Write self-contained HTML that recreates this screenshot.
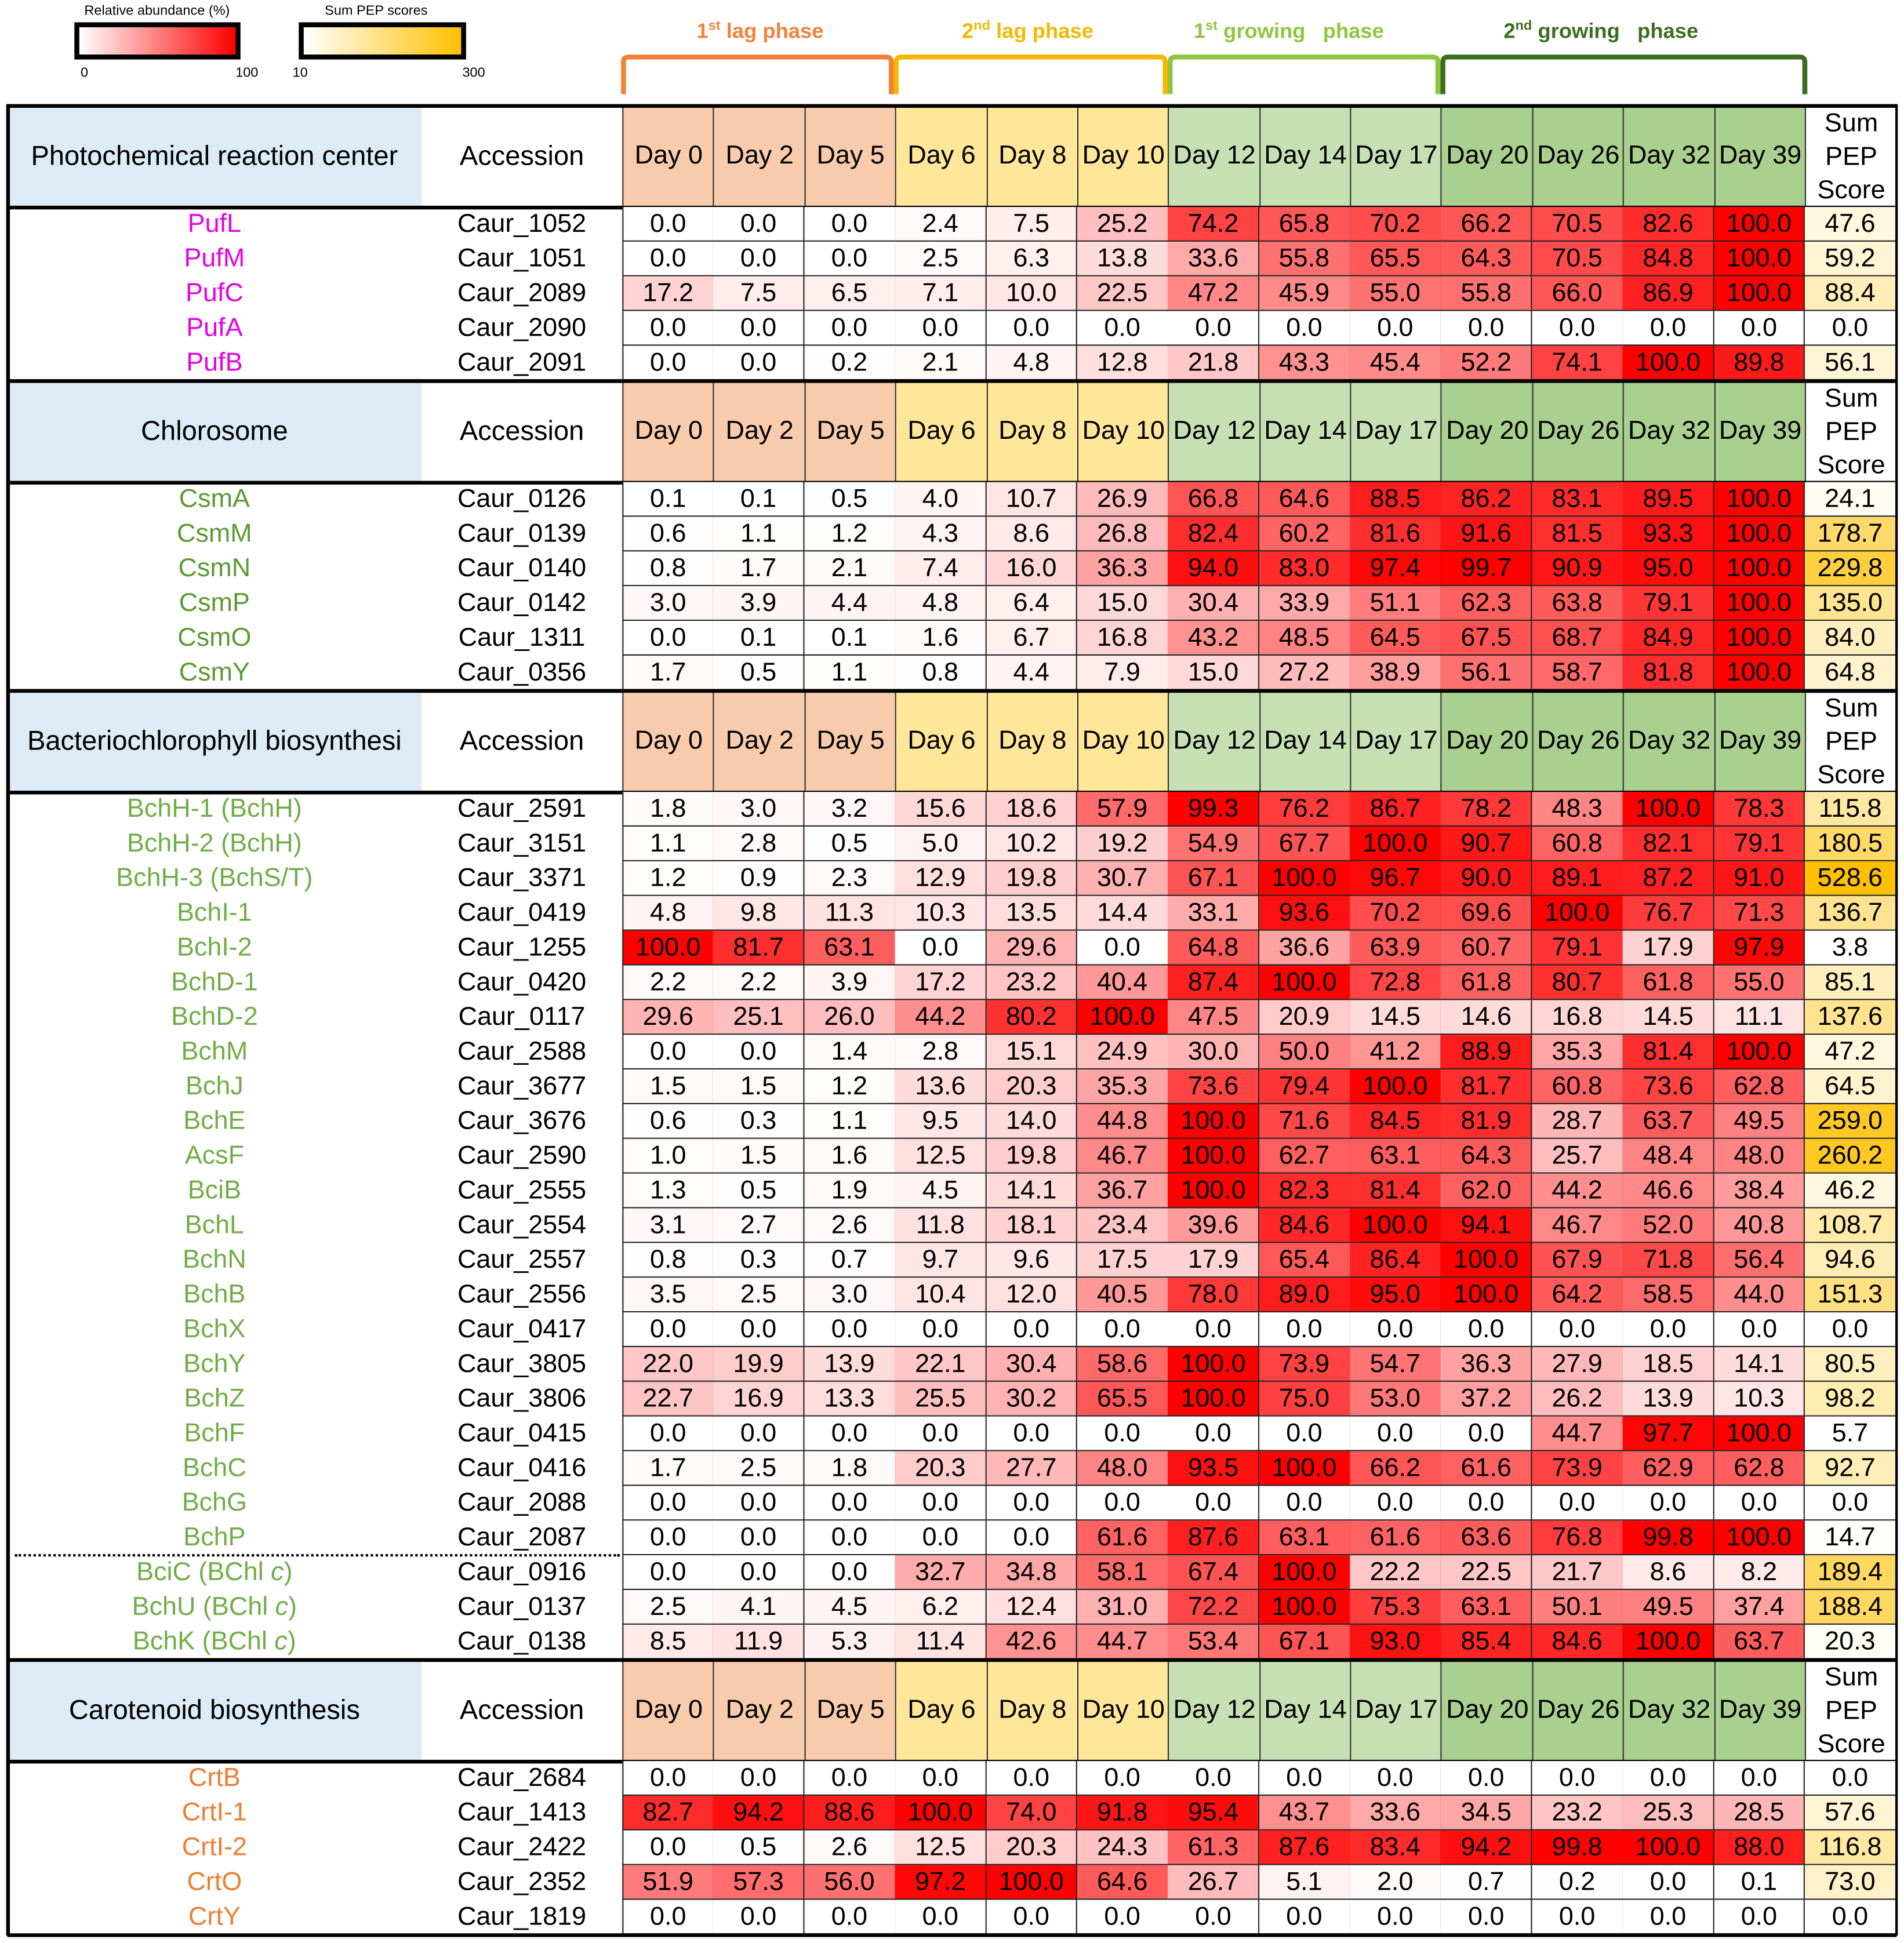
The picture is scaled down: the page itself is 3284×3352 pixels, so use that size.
<!DOCTYPE html>
<html><head><meta charset="utf-8">
<style>
html,body{margin:0;padding:0;background:#fff;}
body{width:3284px;height:3352px;overflow:hidden;position:relative;}
#wrap{position:absolute;left:0;top:0;width:1536px;height:1568px;transform:scale(2.138);transform-origin:0 0;font-family:"Liberation Sans",Arial,sans-serif;}
.a{position:absolute;box-sizing:border-box;}
.c{display:flex;align-items:center;justify-content:center;text-align:center;white-space:nowrap;}
.v{font-size:21px;color:#000;border-right:1px solid #222;border-bottom:1px solid #222;}
.lbl{font-size:11px;color:#000;}
</style></head><body>
<div id="wrap">
  <div class="a lbl" style="left:68px;top:3px;">Relative abundance (%)</div>
  <div class="a" style="left:60px;top:18px;width:134px;height:30px;border:4px solid #000;background:linear-gradient(to right,#fff,#ff0000);"></div>
  <div class="a lbl" style="left:65px;top:53px;">0</div>
  <div class="a lbl" style="left:190px;top:53px;">100</div>
  <div class="a lbl" style="left:262px;top:3px;">Sum PEP scores</div>
  <div class="a" style="left:241px;top:18px;width:135px;height:30px;border:4px solid #000;background:linear-gradient(to right,#fff,#ffc000);"></div>
  <div class="a lbl" style="left:236px;top:53px;">10</div>
  <div class="a lbl" style="left:373px;top:53px;">300</div>
  <svg class="a" style="left:0;top:0" width="1536" height="90">
    <path d="M503,76 L503,50 Q503,46 507,46 L715,46 Q719,46 719,50 L719,76" fill="none" stroke="#f4813a" stroke-width="4"/>
    <path d="M723,76 L723,50 Q723,46 727,46 L936,46 Q940,46 940,50 L940,76" fill="none" stroke="#f5b800" stroke-width="4"/>
    <path d="M944,76 L944,50 Q944,46 948,46 L1156,46 Q1160,46 1160,50 L1160,76" fill="none" stroke="#8dc63f" stroke-width="4"/>
    <path d="M1164,76 L1164,50 Q1164,46 1168,46 L1452,46 Q1456,46 1456,50 L1456,76" fill="none" stroke="#3b6e1f" stroke-width="4"/>
  </svg>
  <div class="a" style="left:562px;top:15px;font-size:17px;font-weight:bold;color:#f4813a">1<sup style="font-size:11px">st</sup> lag phase</div>
  <div class="a" style="left:776px;top:15px;font-size:17px;font-weight:bold;color:#f5b800">2<sup style="font-size:11px">nd</sup> lag phase</div>
  <div class="a" style="left:963px;top:15px;font-size:17px;font-weight:bold;color:#8dc63f;white-space:pre">1<sup style="font-size:11px">st</sup> growing   phase</div>
  <div class="a" style="left:1213px;top:15px;font-size:17px;font-weight:bold;color:#3b6e1f;white-space:pre">2<sup style="font-size:11px">nd</sup> growing   phase</div>
  <div id="tbl" class="a" style="left:0;top:0;width:1536px;height:1568px;"></div>
</div>
<script>
const days = ["Day 0","Day 2","Day 5","Day 6","Day 8","Day 10","Day 12","Day 14","Day 17","Day 20","Day 26","Day 32","Day 39"];
const sectionTitles = ["Photochemical reaction center","Chlorosome","Bacteriochlorophyll biosynthesi","Carotenoid biosynthesis"];
const sectionColors = ["#e600e6","#5b9b32","#70ad47","#ed7d31"];
const proteinNames = [
 ["PufL","PufM","PufC","PufA","PufB"],
 ["CsmA","CsmM","CsmN","CsmP","CsmO","CsmY"],
 ["BchH-1 (BchH)","BchH-2 (BchH)","BchH-3 (BchS/T)","BchI-1","BchI-2","BchD-1","BchD-2","BchM","BchJ","BchE","AcsF","BciB","BchL","BchN","BchB","BchX","BchY","BchZ","BchF","BchC","BchG","BchP","BciC (BChl&nbsp;<i>c</i>)","BchU (BChl&nbsp;<i>c</i>)","BchK (BChl&nbsp;<i>c</i>)"],
 ["CrtB","CrtI-1","CrtI-2","CrtO","CrtY"]
];
const accessions = [
 ["Caur_1052","Caur_1051","Caur_2089","Caur_2090","Caur_2091"],
 ["Caur_0126","Caur_0139","Caur_0140","Caur_0142","Caur_1311","Caur_0356"],
 ["Caur_2591","Caur_3151","Caur_3371","Caur_0419","Caur_1255","Caur_0420","Caur_0117","Caur_2588","Caur_3677","Caur_3676","Caur_2590","Caur_2555","Caur_2554","Caur_2557","Caur_2556","Caur_0417","Caur_3805","Caur_3806","Caur_0415","Caur_0416","Caur_2088","Caur_2087","Caur_0916","Caur_0137","Caur_0138"],
 ["Caur_2684","Caur_1413","Caur_2422","Caur_2352","Caur_1819"]
];
const photoValues = [
 [0.0,0.0,0.0,2.4,7.5,25.2,74.2,65.8,70.2,66.2,70.5,82.6,100.0],
 [0.0,0.0,0.0,2.5,6.3,13.8,33.6,55.8,65.5,64.3,70.5,84.8,100.0],
 [17.2,7.5,6.5,7.1,10.0,22.5,47.2,45.9,55.0,55.8,66.0,86.9,100.0],
 [0.0,0.0,0.0,0.0,0.0,0.0,0.0,0.0,0.0,0.0,0.0,0.0,0.0],
 [0.0,0.0,0.2,2.1,4.8,12.8,21.8,43.3,45.4,52.2,74.1,100.0,89.8]
];
const chloroValues = [
 [0.1,0.1,0.5,4.0,10.7,26.9,66.8,64.6,88.5,86.2,83.1,89.5,100.0],
 [0.6,1.1,1.2,4.3,8.6,26.8,82.4,60.2,81.6,91.6,81.5,93.3,100.0],
 [0.8,1.7,2.1,7.4,16.0,36.3,94.0,83.0,97.4,99.7,90.9,95.0,100.0],
 [3.0,3.9,4.4,4.8,6.4,15.0,30.4,33.9,51.1,62.3,63.8,79.1,100.0],
 [0.0,0.1,0.1,1.6,6.7,16.8,43.2,48.5,64.5,67.5,68.7,84.9,100.0],
 [1.7,0.5,1.1,0.8,4.4,7.9,15.0,27.2,38.9,56.1,58.7,81.8,100.0]
];
const bchlValues = [
 [1.8,3.0,3.2,15.6,18.6,57.9,99.3,76.2,86.7,78.2,48.3,100.0,78.3],
 [1.1,2.8,0.5,5.0,10.2,19.2,54.9,67.7,100.0,90.7,60.8,82.1,79.1],
 [1.2,0.9,2.3,12.9,19.8,30.7,67.1,100.0,96.7,90.0,89.1,87.2,91.0],
 [4.8,9.8,11.3,10.3,13.5,14.4,33.1,93.6,70.2,69.6,100.0,76.7,71.3],
 [100.0,81.7,63.1,0.0,29.6,0.0,64.8,36.6,63.9,60.7,79.1,17.9,97.9],
 [2.2,2.2,3.9,17.2,23.2,40.4,87.4,100.0,72.8,61.8,80.7,61.8,55.0],
 [29.6,25.1,26.0,44.2,80.2,100.0,47.5,20.9,14.5,14.6,16.8,14.5,11.1],
 [0.0,0.0,1.4,2.8,15.1,24.9,30.0,50.0,41.2,88.9,35.3,81.4,100.0],
 [1.5,1.5,1.2,13.6,20.3,35.3,73.6,79.4,100.0,81.7,60.8,73.6,62.8],
 [0.6,0.3,1.1,9.5,14.0,44.8,100.0,71.6,84.5,81.9,28.7,63.7,49.5],
 [1.0,1.5,1.6,12.5,19.8,46.7,100.0,62.7,63.1,64.3,25.7,48.4,48.0],
 [1.3,0.5,1.9,4.5,14.1,36.7,100.0,82.3,81.4,62.0,44.2,46.6,38.4],
 [3.1,2.7,2.6,11.8,18.1,23.4,39.6,84.6,100.0,94.1,46.7,52.0,40.8],
 [0.8,0.3,0.7,9.7,9.6,17.5,17.9,65.4,86.4,100.0,67.9,71.8,56.4],
 [3.5,2.5,3.0,10.4,12.0,40.5,78.0,89.0,95.0,100.0,64.2,58.5,44.0],
 [0.0,0.0,0.0,0.0,0.0,0.0,0.0,0.0,0.0,0.0,0.0,0.0,0.0],
 [22.0,19.9,13.9,22.1,30.4,58.6,100.0,73.9,54.7,36.3,27.9,18.5,14.1],
 [22.7,16.9,13.3,25.5,30.2,65.5,100.0,75.0,53.0,37.2,26.2,13.9,10.3],
 [0.0,0.0,0.0,0.0,0.0,0.0,0.0,0.0,0.0,0.0,44.7,97.7,100.0],
 [1.7,2.5,1.8,20.3,27.7,48.0,93.5,100.0,66.2,61.6,73.9,62.9,62.8],
 [0.0,0.0,0.0,0.0,0.0,0.0,0.0,0.0,0.0,0.0,0.0,0.0,0.0],
 [0.0,0.0,0.0,0.0,0.0,61.6,87.6,63.1,61.6,63.6,76.8,99.8,100.0],
 [0.0,0.0,0.0,32.7,34.8,58.1,67.4,100.0,22.2,22.5,21.7,8.6,8.2],
 [2.5,4.1,4.5,6.2,12.4,31.0,72.2,100.0,75.3,63.1,50.1,49.5,37.4],
 [8.5,11.9,5.3,11.4,42.6,44.7,53.4,67.1,93.0,85.4,84.6,100.0,63.7]
];
const caroValues = [
 [0.0,0.0,0.0,0.0,0.0,0.0,0.0,0.0,0.0,0.0,0.0,0.0,0.0],
 [82.7,94.2,88.6,100.0,74.0,91.8,95.4,43.7,33.6,34.5,23.2,25.3,28.5],
 [0.0,0.5,2.6,12.5,20.3,24.3,61.3,87.6,83.4,94.2,99.8,100.0,88.0],
 [51.9,57.3,56.0,97.2,100.0,64.6,26.7,5.1,2.0,0.7,0.2,0.0,0.1],
 [0.0,0.0,0.0,0.0,0.0,0.0,0.0,0.0,0.0,0.0,0.0,0.0,0.0]
];
const sumPep = [
 [47.6,59.2,88.4,0.0,56.1],
 [24.1,178.7,229.8,135.0,84.0,64.8],
 [115.8,180.5,528.6,136.7,3.8,85.1,137.6,47.2,64.5,259.0,260.2,46.2,108.7,94.6,151.3,0.0,80.5,98.2,5.7,92.7,0.0,14.7,189.4,188.4,20.3],
 [0.0,57.6,116.8,73.0,0.0]
];
const allValues = [photoValues, chloroValues, bchlValues, caroValues];

const tbl = document.getElementById('tbl');
const L=6, R=1530, nameW=334, accX=340, dayX=502, sumX=1456;
const dayW=(sumX-dayX)/days.length;
const HDR=82, ROW=28, TOP=85;
const dayBg=i=>i<3?"#f8cbad":i<6?"#ffe699":i<9?"#c6e0b4":"#a9d08e";
function xDay(i){return dayX+i*dayW;}
function redColor(v){const t=Math.max(0,Math.min(1,v/100));const g=Math.round(255*(1-t));return `rgb(255,${g},${g})`;}
function pepColor(v){let t=(v-10)/290;t=Math.max(0,Math.min(1,t));return `rgb(255,${Math.round(255-63*t)},${Math.round(255*(1-t))})`;}
function box(x,y,w,h,cls,style,html){const d=document.createElement('div');d.className='a '+cls;d.style.cssText=`left:${x}px;top:${y}px;width:${w}px;height:${h}px;`+style;if(html!==undefined)d.innerHTML=html;tbl.appendChild(d);return d;}
function hline(y,x1,x2,t){return box(x1,y-t/2,x2-x1,t,'','background:#000;');}

let y=TOP;
for(let s=0;s<4;s++){
  let d=box(L,y,nameW,HDR,'c',`background:#ddebf7;font-size:22px;`,sectionTitles[s]);
  
  
  d=box(accX,y,dayX-accX,HDR,'c','font-size:22px;','Accession');
  
  
  for(let i=0;i<days.length;i++){
    d=box(xDay(i),y,dayW+0.5,HDR,'c',`background:${dayBg(i)};font-size:21px;border-left:1px solid #333;`,days[i]);
    
    
  }
  d=box(sumX,y,R-sumX,HDR,'c',`font-size:21px;line-height:27px;white-space:normal;border-left:1px solid #333;`,'Sum<br>PEP<br>Score');
  
  
  hline(y,L,R,3);
  y+=HDR;
  hline(y,L,R,3);
  const vals=allValues[s];
  for(let r=0;r<vals.length;r++){
    const ry=y+r*ROW;
    d=box(L,ry,nameW,ROW,'c',`font-size:21px;color:${sectionColors[s]};`,proteinNames[s][r]);
    
    
    d=box(accX,ry,dayX-accX,ROW,'c','font-size:21px;',accessions[s][r]);
    
    
    for(let i=0;i<vals[r].length;i++){
      const v=vals[r][i];
      d=box(xDay(i),ry,dayW+0.5,ROW,'c v',`background:${redColor(v)};`+(i==0?'border-left:1px solid #222;':''),v.toFixed(1));
      
      
    }
    const p=sumPep[s][r];
    d=box(sumX,ry,R-sumX,ROW,'c v',`background:${pepColor(p)};`,p.toFixed(1));
    
    
    if(s==2 && r==22){
      d=box(12,ry-1,dayX-14,0,'','border-top:2px dotted #000;');
      
      
    }
  }
  y+=vals.length*ROW;
  hline(y,L,R,3);
}
let ob=box(L-1,TOP-1,2.5,y-TOP+2,'','background:#000;');


ob=box(R-1.5,TOP-1,2.5,y-TOP+2,'','background:#000;');


</script>
</body></html>
